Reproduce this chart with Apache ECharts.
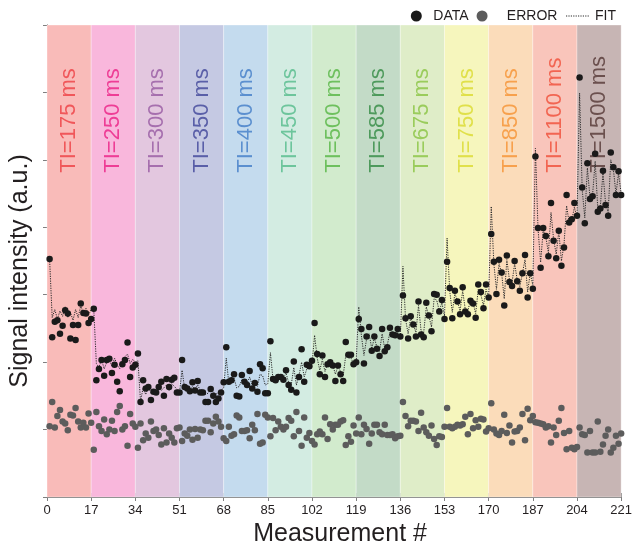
<!DOCTYPE html>
<html>
<head>
<meta charset="utf-8">
<script src="https://cdn.jsdelivr.net/npm/echarts@6/dist/echarts.min.js"></script>
<style>
html,body{margin:0;padding:0;background:#fff;}
#chart{width:635px;height:552px;}
</style>
</head>
<body>
<div id="chart"></div>
<script>
// ---- data ----
const TI_LABELS = ['TI=175 ms','TI=250 ms','TI=300 ms','TI=350 ms','TI=400 ms','TI=450 ms','TI=500 ms','TI=585 ms','TI=675 ms','TI=750 ms','TI=850 ms','TI=1100 ms','TI=1500 ms'];
const SEG_LEN = 17;
const X_TICKS = [0,17,34,51,68,85,102,119,136,153,170,187,204,221];

const DATA = [
  3.53,2.37,2.60,2.62,2.42,2.54,2.77,2.72,2.35,2.55,2.33,2.55,2.87,2.73,2.72,2.58,2.64,
  2.79,1.73,1.90,2.03,1.80,2.03,2.05,1.84,1.96,1.71,1.57,1.97,2.03,2.29,1.78,1.92,1.96,
  2.13,1.41,1.73,1.61,1.63,1.44,1.56,1.55,1.63,1.71,1.50,1.75,1.63,1.74,1.77,1.55,1.55,
  2.03,1.63,1.61,1.57,1.70,1.58,1.72,1.55,1.55,1.41,1.41,1.60,1.50,1.41,1.46,1.55,1.70,
  2.22,1.71,1.73,1.82,1.50,1.49,1.81,1.71,1.66,1.87,1.61,1.69,1.56,1.97,1.91,1.54,1.54,
  2.31,1.75,1.73,1.78,1.78,1.74,1.88,1.66,1.59,2.01,1.55,1.78,2.19,1.71,1.96,1.94,2.02,
  2.58,2.12,1.82,2.10,1.78,1.97,2.00,1.95,1.72,1.95,1.82,1.72,2.30,2.11,2.11,1.97,2.00,
  2.64,2.49,1.98,2.38,2.52,2.17,2.38,2.20,2.09,2.49,2.16,2.22,2.51,2.41,2.40,2.49,2.38,
  2.99,2.65,2.35,2.68,2.56,2.38,2.90,2.41,2.37,2.88,2.69,2.46,3.01,3.00,2.75,2.92,2.64,
  3.49,3.10,2.65,3.06,2.90,2.71,3.11,2.75,2.71,2.91,2.87,2.66,3.15,3.04,2.80,3.15,2.96,
  3.90,3.49,3.01,3.52,3.33,2.84,3.58,3.19,3.13,3.50,3.20,3.06,3.32,3.59,2.96,3.32,3.09,
  5.05,3.99,3.40,3.99,3.87,3.57,4.36,3.80,3.54,3.95,3.43,3.70,4.48,4.07,4.12,4.36,4.17,
  6.22,4.59,4.06,4.95,4.42,4.46,5.09,4.23,4.28,4.84,4.33,4.17,5.11,4.89,4.48,4.83,4.48
];

const ERROR = [
  1.05,1.41,1.03,1.20,1.29,1.12,1.09,0.99,1.22,1.21,1.32,1.12,1.03,1.10,1.03,1.24,1.10,
  0.70,1.26,1.05,0.98,1.15,0.93,1.00,1.13,0.98,1.26,1.35,1.00,1.05,0.76,1.23,1.09,1.04,
  0.73,1.09,0.84,0.94,0.88,1.12,0.98,1.00,0.92,0.78,1.02,0.81,0.94,0.88,0.81,1.02,1.03,
  0.83,0.94,0.91,1.00,0.85,1.01,0.88,1.00,0.99,1.13,1.13,0.96,1.09,1.19,1.12,1.04,0.87,
  0.83,1.04,0.91,0.93,1.21,1.18,0.98,0.98,0.99,0.87,1.07,0.99,1.23,0.79,0.81,1.22,1.18,
  0.90,1.17,0.99,1.12,1.04,1.00,1.04,1.17,1.13,0.90,1.26,0.98,0.76,1.18,0.88,0.95,0.83,
  0.78,0.93,0.97,0.93,1.18,0.86,1.08,1.00,1.07,1.07,1.12,1.14,0.77,0.90,0.82,1.06,0.94,
  1.18,0.93,1.07,1.01,0.79,0.94,1.07,1.07,0.96,0.93,1.07,0.92,0.92,0.93,0.87,0.90,0.91,
  1.41,1.20,1.05,1.13,1.13,1.12,0.98,1.25,1.03,0.96,0.91,1.06,0.86,0.77,0.90,0.89,1.04,
  1.32,1.04,1.02,1.04,1.07,1.06,1.08,1.19,0.93,1.23,1.02,1.14,1.04,1.16,1.15,0.97,1.02,
  1.39,1.00,0.94,0.92,0.98,1.22,0.95,1.06,0.81,0.97,0.98,1.03,1.23,0.84,1.31,1.14,1.20,
  1.11,1.10,1.09,1.08,1.03,1.05,0.81,1.03,0.92,1.13,1.32,0.95,0.71,0.98,0.73,0.71,0.74,
  1.03,0.93,0.92,0.66,0.98,0.66,0.66,1.12,0.67,0.78,0.91,1.00,0.66,0.73,0.91,0.79,0.94
];

const FIT = [
  3.53,2.66,2.78,2.64,2.76,2.68,2.82,2.66,2.74,2.62,2.78,2.66,2.84,2.72,2.80,2.70,2.78,
  2.78,1.98,1.92,2.04,1.90,2.00,2.02,1.94,2.06,1.96,1.90,2.02,2.08,2.12,1.98,2.04,2.00,
  2.02,1.42,1.62,1.52,1.64,1.54,1.60,1.56,1.64,1.58,1.62,1.66,1.58,1.68,1.64,1.60,1.56,
  1.88,1.60,1.62,1.58,1.64,1.60,1.66,1.58,1.60,1.52,1.54,1.60,1.56,1.52,1.56,1.58,1.62,
  2.06,1.68,1.72,1.76,1.62,1.64,1.74,1.70,1.68,1.78,1.66,1.70,1.64,1.82,1.80,1.66,1.68,
  2.14,1.74,1.76,1.78,1.78,1.76,1.84,1.70,1.66,1.92,1.66,1.80,2.00,1.78,1.90,1.92,1.96,
  2.40,2.06,1.88,2.04,1.86,1.98,2.00,1.96,1.82,1.94,1.86,1.80,2.10,2.06,2.06,1.98,2.00,
  2.82,2.40,2.10,2.34,2.42,2.20,2.36,2.22,2.16,2.42,2.20,2.26,2.44,2.38,2.36,2.44,2.36,
  3.42,2.64,2.42,2.66,2.56,2.44,2.84,2.46,2.44,2.82,2.68,2.52,2.94,2.92,2.76,2.88,2.68,
  3.84,3.06,2.74,3.02,2.90,2.76,3.06,2.78,2.76,2.92,2.88,2.72,3.08,3.00,2.84,3.08,2.96,
  4.31,3.46,3.08,3.46,3.32,2.94,3.52,3.22,3.18,3.46,3.22,3.12,3.32,3.52,3.04,3.32,3.14,
  5.17,3.98,3.48,3.96,3.86,3.62,4.22,3.82,3.60,3.94,3.50,3.74,4.32,4.06,4.10,4.30,4.14,
  5.99,4.56,4.14,4.88,4.44,4.48,4.98,4.28,4.32,4.80,4.36,4.22,5.00,4.86,4.50,4.80,4.50
];

// ---- styles ----
const BAND_COLORS = ['#f9bbb9','#f9b7dc','#e3c7df','#c5c9e3','#c4dbee','#d3ece2','#d2ebcd','#c3dbc7','#dfedc8','#f6f6bd','#fbdcba','#f9c5bb','#c7b5b4'];
const LABEL_COLORS = ['#f0575a','#ee3d96','#a66fae','#5a5fa8','#5b8fcf','#6dc59c','#6ec05e','#4e9a5c','#9acc5c','#e0e04a','#f7a14d','#f26552','#6b504e'];
const FONT = '"Liberation Sans", Arial, Helvetica, sans-serif';

const pairs = arr => arr.map((v, i) => [i + 1, v]);

const bands = TI_LABELS.map((name, k) => [
  {
    name: name,
    xAxis: k * SEG_LEN,
    itemStyle: { color: BAND_COLORS[k], borderColor: 'rgba(255,255,255,0.55)', borderWidth: 0.6 },
    label: {
      show: true,
      position: ['50%', 148],
      rotate: 90,
      align: 'left',
      verticalAlign: 'middle',
      color: LABEL_COLORS[k],
      fontSize: 22,
      fontFamily: FONT
    }
  },
  { xAxis: (k + 1) * SEG_LEN }
]);

const axisLineStyle = { color: '#7f7f7f', width: 1 };

const chart = echarts.init(document.getElementById('chart'), null, { renderer: 'canvas' });
chart.setOption({
  animation: false,
  textStyle: { fontFamily: FONT },
  grid: { left: 46, right: 9.5, top: 25, bottom: 55 },
  legend: {
    right: 14,
    top: 4,
    itemGap: 8,
    itemWidth: 24,
    itemHeight: 11,
    textStyle: { fontSize: 14, color: '#231f20', fontFamily: FONT },
    data: [
      { name: 'DATA', icon: 'circle' },
      { name: 'ERROR', icon: 'circle' },
      { name: 'FIT', itemStyle: { opacity: 0 }, lineStyle: { color: '#2a2a2a', width: 1.2, type: [1.2, 1.2] } }
    ],
    formatter: n => n === 'ERROR' ? '  ERROR' : n
  },
  xAxis: [
    {
      type: 'value', min: 0, max: 221, interval: 17, position: 'bottom',
      axisLine: { show: true, lineStyle: axisLineStyle },
      axisTick: { show: true, inside: true, length: 4, lineStyle: axisLineStyle },
      axisLabel: { fontSize: 13, color: '#231f20', margin: 7, fontFamily: FONT,
        formatter: v => X_TICKS.indexOf(v) >= 0 ? String(v) : '' },
      splitLine: { show: false },
      name: 'Measurement #', nameLocation: 'middle', nameGap: 24,
      nameTextStyle: { fontSize: 25, color: '#231f20', fontFamily: FONT, padding: [0, 0, 0, 12] }
    },
    {
      type: 'value', min: 0, max: 221, interval: 17, position: 'top',
      axisLine: { show: true, lineStyle: axisLineStyle },
      axisTick: { show: true, inside: true, length: 4, lineStyle: axisLineStyle },
      axisLabel: { show: false },
      splitLine: { show: false }
    }
  ],
  yAxis: [
    {
      type: 'value', min: 0, max: 7, interval: 1, position: 'left',
      axisLine: { show: true, lineStyle: axisLineStyle },
      axisTick: { show: true, inside: true, length: 4, lineStyle: axisLineStyle },
      axisLabel: { show: false },
      splitLine: { show: false },
      name: 'Signal intensity (a.u.)', nameLocation: 'middle', nameGap: 14,
      nameTextStyle: { fontSize: 25, color: '#231f20', fontFamily: FONT, padding: [0, 20, 0, 0] }
    },
    {
      type: 'value', min: 0, max: 7, interval: 1, position: 'right',
      axisLine: { show: true, lineStyle: axisLineStyle },
      axisTick: { show: true, inside: true, length: 4, lineStyle: axisLineStyle },
      axisLabel: { show: false },
      splitLine: { show: false }
    }
  ],
  series: [
    {
      name: 'FIT', type: 'line', data: pairs(FIT), symbol: 'none', showSymbol: false, z: 3,
      lineStyle: { color: '#2a2a2a', width: 1, type: [1.2, 1.2] },
      itemStyle: { color: '#2a2a2a' },
      markArea: { silent: true, z: 1, data: bands }
    },
    {
      name: 'ERROR', type: 'scatter', data: pairs(ERROR), symbolSize: 6.5, z: 4,
      itemStyle: { color: '#5c5c5c', opacity: 1 }
    },
    {
      name: 'DATA', type: 'scatter', data: pairs(DATA), symbolSize: 6.5, z: 5,
      itemStyle: { color: '#1a1a1a', opacity: 1 }
    }
  ]
});
</script>
</body>
</html>
